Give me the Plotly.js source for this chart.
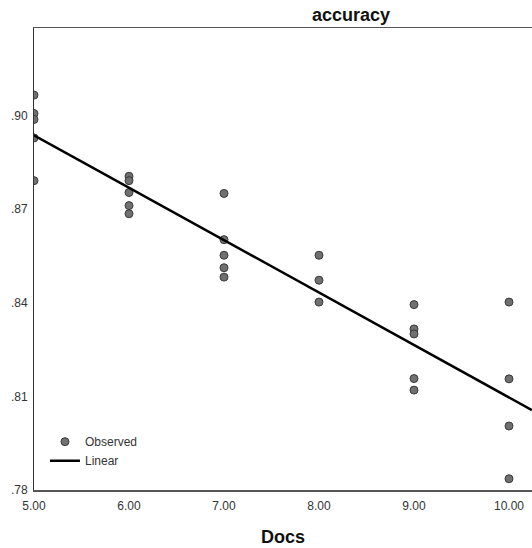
<!DOCTYPE html>
<html>
<head>
<meta charset="utf-8">
<script src="https://cdn.plot.ly/plotly-3.0.1.min.js"></script>
<style>
html, body { margin: 0; padding: 0; background: #fff; overflow: hidden; }
#chart { width: 532px; height: 548px; }
</style>
</head>
<body>
<div id="chart"></div>
<script>
// Observed data: Docs (x) vs accuracy (y)
const docs = [
  5, 5, 5, 5, 5,
  6, 6, 6, 6, 6,
  7, 7, 7, 7, 7,
  8, 8, 8,
  9, 9, 9, 9, 9,
  10, 10, 10, 10
];
const accuracy = [
  0.9065, 0.9006, 0.8987, 0.8928, 0.8791,
  0.8805, 0.8791, 0.8753, 0.8711, 0.8685,
  0.8750, 0.8602, 0.8552, 0.8512, 0.8482,
  0.8552, 0.8472, 0.8402,
  0.8394, 0.8316, 0.8300, 0.8157, 0.8120,
  0.8402, 0.8156, 0.8005, 0.7836
];
const yTickVals = [0.78, 0.81, 0.84, 0.87, 0.90];
const yTickText = ['.78', '.81', '.84', '.87', '.90'];
const xTickVals = [5, 6, 7, 8, 9, 10];

// Linear least-squares fit computed from the observed values
const n = docs.length;
const mx = docs.reduce((a, b) => a + b, 0) / n;
const my = accuracy.reduce((a, b) => a + b, 0) / n;
let sxy = 0, sxx = 0;
for (let i = 0; i < n; i++) {
  sxy += (docs[i] - mx) * (accuracy[i] - my);
  sxx += (docs[i] - mx) * (docs[i] - mx);
}
const slope = sxy / sxx;
const intercept = my - slope * mx;

const xRange = [5, 10.242];
const yRange = [0.78, 0.928];
const fitX = [xRange[0], xRange[1]];
const fitY = fitX.map(x => intercept + slope * x);

const font = 'Liberation Sans, Arial, sans-serif';

const data = [
  {
    type: 'scatter', mode: 'markers', name: 'Observed',
    x: docs, y: accuracy,
    marker: { size: 8, color: '#707070', line: { color: '#3a3a3a', width: 1 } },
    hoverinfo: 'x+y'
  },
  {
    type: 'scatter', mode: 'lines', name: 'Linear',
    x: fitX, y: fitY,
    line: { color: '#000000', width: 2.5 },
    hoverinfo: 'skip'
  }
];

const layout = {
  width: 532, height: 548,
  margin: { l: 34, r: 0, t: 28, b: 58 },
  paper_bgcolor: '#ffffff', plot_bgcolor: '#ffffff',
  font: { family: font, size: 12, color: '#333333' },
  title: {
    text: '<b>accuracy</b>',
    font: { family: font, size: 18, color: '#111111' },
    xref: 'paper', x: 0.6365, xanchor: 'center',
    yref: 'container', y: 0.9726, yanchor: 'middle'
  },
  xaxis: {
    range: xRange, tickvals: xTickVals, tickformat: '.2f',
    showgrid: false, zeroline: false, ticks: '',
    showline: true, mirror: true, linecolor: '#555555', linewidth: 1.5,
    tickfont: { family: font, size: 12, color: '#333333' },
    ticklabelstandoff: 4,
    title: { text: '<b>Docs</b>', font: { family: font, size: 18, color: '#111111' }, standoff: 18 }
  },
  yaxis: {
    range: yRange, tickvals: yTickVals, ticktext: yTickText,
    showgrid: false, zeroline: false, ticks: '',
    showline: true, mirror: false, linecolor: '#333333', linewidth: 1,
    tickfont: { family: font, size: 12, color: '#333333' },
    ticklabelstandoff: 3
  },
  showlegend: true,
  legend: {
    x: 0.022, xanchor: 'left', y: 0.136, yanchor: 'top',
    bgcolor: 'rgba(0,0,0,0)', borderwidth: 0,
    font: { family: font, size: 12, color: '#333333' },
    tracegroupgap: 0
  }
};

Plotly.newPlot('chart', data, layout, { displayModeBar: false, staticPlot: true });
</script>
</body>
</html>
